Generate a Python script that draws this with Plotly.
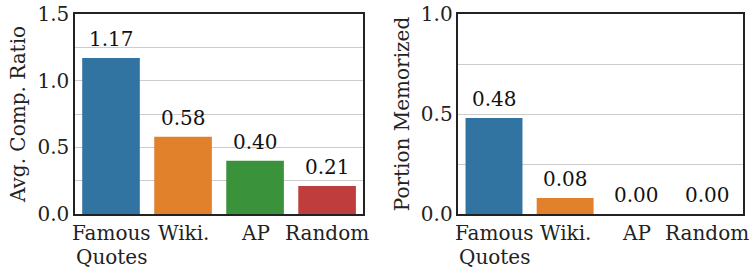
import plotly.graph_objects as go
from plotly.subplots import make_subplots

categories = ["Famous Quotes", "Wiki.", "AP", "Random"]
tick_lines = [["Famous", "Quotes"], ["Wiki."], ["AP"], ["Random"]]
comp_ratio = [1.17, 0.58, 0.40, 0.21]
portion_mem = [0.48, 0.08, 0.00, 0.00]
colors = ["#3274A1", "#E1812C", "#3A923A", "#C03D3E"]
left_ticks = [0.0, 0.5, 1.0, 1.5]
right_ticks = [0.0, 0.5, 1.0]

FONT = "DejaVu Serif"
FS = 20
TXT = "#222222"

fig = make_subplots(rows=1, cols=2, horizontal_spacing=0.14)

fig.add_trace(go.Bar(x=categories, y=comp_ratio, marker_color=colors,
                     marker_line_width=0, width=0.8), row=1, col=1)
fig.add_trace(go.Bar(x=categories, y=portion_mem, marker_color=colors,
                     marker_line_width=0, width=0.8), row=1, col=2)

for xa, ya, vals in (("x", "y", comp_ratio), ("x2", "y2", portion_mem)):
    for c, v in zip(categories, vals):
        fig.add_annotation(x=c, y=v, xref=xa, yref=ya, text=f"{v:.2f}",
                           showarrow=False, yanchor="bottom", yshift=5,
                           font=dict(family=FONT, size=FS, color="#111111"))
    # category labels (tight line spacing as in reference)
    for c, lines in zip(categories, tick_lines):
        for i, ln in enumerate(lines):
            fig.add_annotation(x=c, y=0, xref=xa, yref="paper", text=ln,
                               showarrow=False, yanchor="top", yshift=-6 - 24 * i,
                               borderpad=0,
                               font=dict(family=FONT, size=FS, color=TXT))

axis_common = dict(showline=True, linecolor="#222222", linewidth=1.5, mirror=True,
                   ticks="", tickfont=dict(family=FONT, size=FS, color=TXT))

fig.update_xaxes(**axis_common, showgrid=False, showticklabels=False,
                 range=[-0.5, len(categories) - 0.5], autorange=False)
fig.update_yaxes(**axis_common, showgrid=True, gridcolor="#cccccc", gridwidth=1,
                 zeroline=False,
                 minor=dict(dtick=0.25, showgrid=True, gridcolor="#cccccc", gridwidth=1, ticks=""))

fig.update_xaxes(domain=[0.0, 0.4313], row=1, col=1)
fig.update_xaxes(domain=[0.574, 1.0], row=1, col=2)
fig.update_yaxes(range=[0, 1.5], tickvals=left_ticks, ticktext=[f"{t:.1f}" for t in left_ticks],
                 title=dict(text="Avg. Comp. Ratio", font=dict(family=FONT, size=FS, color=TXT),
                            standoff=6), row=1, col=1)
fig.update_yaxes(range=[0, 1.0], tickvals=right_ticks, ticktext=[f"{t:.1f}" for t in right_ticks],
                 title=dict(text="Portion Memorized", font=dict(family=FONT, size=FS, color=TXT),
                            standoff=6), row=1, col=2)

fig.update_layout(width=753, height=268, showlegend=False, bargap=0.2,
                  plot_bgcolor="white", paper_bgcolor="white",
                  margin=dict(l=75, r=10, t=14, b=54, autoexpand=False),
                  font=dict(family=FONT, size=FS, color=TXT))

fig.write_html("out.html", config={"displayModeBar": False},
               post_script="document.body.style.margin='0';")
